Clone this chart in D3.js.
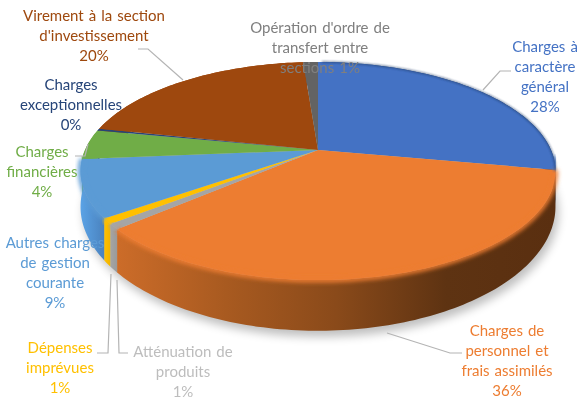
<!DOCTYPE html>
<html>
<head>
<meta charset="utf-8">
<script src="https://cdn.jsdelivr.net/npm/d3@7"></script>
<style>
  html, body { margin: 0; background: #fff; }
  svg { display: block; }
  text { font-family: Lato, "Open Sans", sans-serif; font-size: 15px; word-spacing: 1.2px; text-anchor: middle; }
</style>
</head>
<body>
<svg id="chart" width="581" height="401"></svg>
<script>
// data
var categories = ["Charges à caractère général", "Charges de personnel et frais assimilés",
    "Atténuation de produits", "Dépenses imprévues", "Autres charges de gestion courante",
    "Charges financières", "Charges exceptionnelles", "Virement à la section d'investissement",
    "Opération d'ordre de transfert entre sections"];
var values = [27.9, 35.6, 0.8, 0.8, 8.5, 4.4, 0.3, 20.4, 1.2];
var colors = ["#4472C4", "#ED7D31", "#A5A5A5", "#FFC000", "#5B9BD5", "#70AD47", "#264478", "#9E480E", "#636363"];
var textColors = ["#4472C4", "#ED7D31", "#BDBDBD", "#FFC000", "#5B9BD5", "#70AD47", "#264478", "#9E480E", "#7F7F7F"];

// how each label is broken into lines (the percentage is added from values)
var labelLines = [
    ["Charges à", "caractère", "général"],
    ["Charges de", "personnel et", "frais assimilés"],
    ["Atténuation de", "produits"],
    ["Dépenses", "imprévues"],
    ["Autres charges", "de gestion", "courante"],
    ["Charges", "financières"],
    ["Charges", "exceptionnelles"],
    ["Virement à la section", "d'investissement"],
    ["Opération d'ordre de", "transfert entre", "sections"]
];
var labelPos = [[545, 52], [507, 336], [183, 357], [60, 353], [55, 248], [42, 157], [71, 90], [94, 21], [320, 33]];
var leaders = [
    [[511, 71], [500, 71], [483, 90]],
    [[462, 353], [450, 353], [387, 333]],
    [[128, 353], [119, 353], [117, 280]],
    [[97, 353], [108, 353], [111, 274]],
    null,
    [[75, 156], [85, 156], [88, 144]],
    null,
    [[138, 49], [148, 49], [183, 80]],
    null
];
// wall shading, left to right, one list per slice
var wallStops = [
    ["#2F5597", "#1F3864"],
    ["#CC6C29", "#A85A20", "#8A4A1A", "#5E3312", "#5A2F10"],
    ["#A5A5A5", "#9A9A9A"],
    ["#FFC000", "#F0B400"],
    ["#5BA3E6", "#4A82BE"],
    ["#70AD47", "#70AD47"],
    ["#264478", "#264478"],
    ["#9E480E", "#9E480E"],
    ["#636363", "#636363"]
];

var svg = d3.select("#chart");
var defs = svg.append("defs");
var blur = function(id, dev) {
    defs.append("filter").attr("id", id)
        .attr("x", "-20%").attr("y", "-20%").attr("width", "140%").attr("height", "140%")
        .append("feGaussianBlur").attr("stdDeviation", dev);
};
blur("shadowBlur", 5);
blur("rimBlur", 2.2);
blur("edgeBlur", 0.8);
blur("textBlur", 0.3);

// tilted disc in perspective: u is left-right, v is back-front on the unit circle
var cx = 318, cy = 150, rx = 233, ry = 105, persp = 0.193, thick = 33;
function project(angle, down) {
    var u = Math.sin(angle), v = -Math.cos(angle), w = 1 - persp * v;
    return [cx + rx * u / w, cy + ry * v / w + (down ? thick / (w * w) : 0)];
}
function arcPoints(a0, a1, down) {
    var n = Math.max(2, Math.ceil((a1 - a0) / 0.02));
    return d3.range(n + 1).map(function(i) { return project(a0 + (a1 - a0) * i / n, down); });
}
var line = d3.line();
var pie = d3.pie().sort(null).startAngle(0).endAngle(2 * Math.PI);
var slices = pie(values);
var fullBottom = arcPoints(0, 2 * Math.PI, true);

// soft shadow on the paper
svg.append("path")
    .attr("d", line(fullBottom.map(function(p) { return [p[0] + 3, p[1] + 6]; })) + "Z")
    .attr("fill", "#000").attr("opacity", 0.25)
    .attr("filter", "url(#shadowBlur)");

// walls
slices.forEach(function(d, i) {
    var stops = wallStops[i];
    var xs = d3.extent(arcPoints(d.startAngle, d.endAngle, false), function(p) { return p[0]; });
    var grad = defs.append("linearGradient").attr("id", "wall" + i)
        .attr("gradientUnits", "userSpaceOnUse")
        .attr("x1", xs[0]).attr("x2", xs[1]).attr("y1", 0).attr("y2", 0);
    stops.forEach(function(c, j) {
        grad.append("stop").attr("offset", j / (stops.length - 1)).attr("stop-color", c);
    });
    var pts = arcPoints(d.startAngle, d.endAngle, false)
        .concat(arcPoints(d.startAngle, d.endAngle, true).reverse());
    svg.append("path").attr("d", line(pts) + "Z").attr("fill", "url(#wall" + i + ")");
});

// top faces
var faces = svg.append("g");
slices.forEach(function(d, i) {
    var pts = [[cx, cy]].concat(arcPoints(d.startAngle, d.endAngle, false));
    faces.append("path").attr("d", line(pts) + "Z").attr("fill", colors[i]);
});

// bevel: lighter band on the front of the disc, blurred over the wall
slices.forEach(function(d, i) {
    var a0 = Math.max(d.startAngle, Math.PI * 0.52), a1 = Math.min(d.endAngle, Math.PI * 1.48);
    if (a1 <= a0) return;
    svg.append("path").attr("d", line(arcPoints(a0, a1, false)))
        .attr("fill", "none").attr("stroke", colors[i]).attr("stroke-width", 5)
        .attr("filter", "url(#rimBlur)");
});

// dark thin edge along the back right of the disc
svg.append("path").attr("d", line(arcPoints(0.02, Math.PI * 0.56, false)))
    .attr("fill", "none").attr("stroke", "#1F3864").attr("stroke-width", 1.4)
    .attr("opacity", 0.75).attr("filter", "url(#edgeBlur)");

// leader lines
leaders.forEach(function(l) {
    if (!l) return;
    svg.append("path").attr("d", line(l))
        .attr("fill", "none").attr("stroke", "#B4B4B4").attr("stroke-width", 1.2);
});

// labels
categories.forEach(function(name, i) {
    var lines = labelLines[i].slice();
    var pct = Math.round(values[i]) + "%";
    // the last label keeps its percentage on the same line
    if (i == 8) lines[lines.length - 1] += " " + pct;
    else lines.push(pct);
    var t = svg.append("text")
        .attr("fill", textColors[i])
        .attr("filter", "url(#textBlur)");
    lines.forEach(function(s, j) {
        t.append("tspan")
            .attr("x", labelPos[i][0])
            .attr("y", labelPos[i][1] + j * 20)
            .text(s);
    });
});
</script>
</body>
</html>
